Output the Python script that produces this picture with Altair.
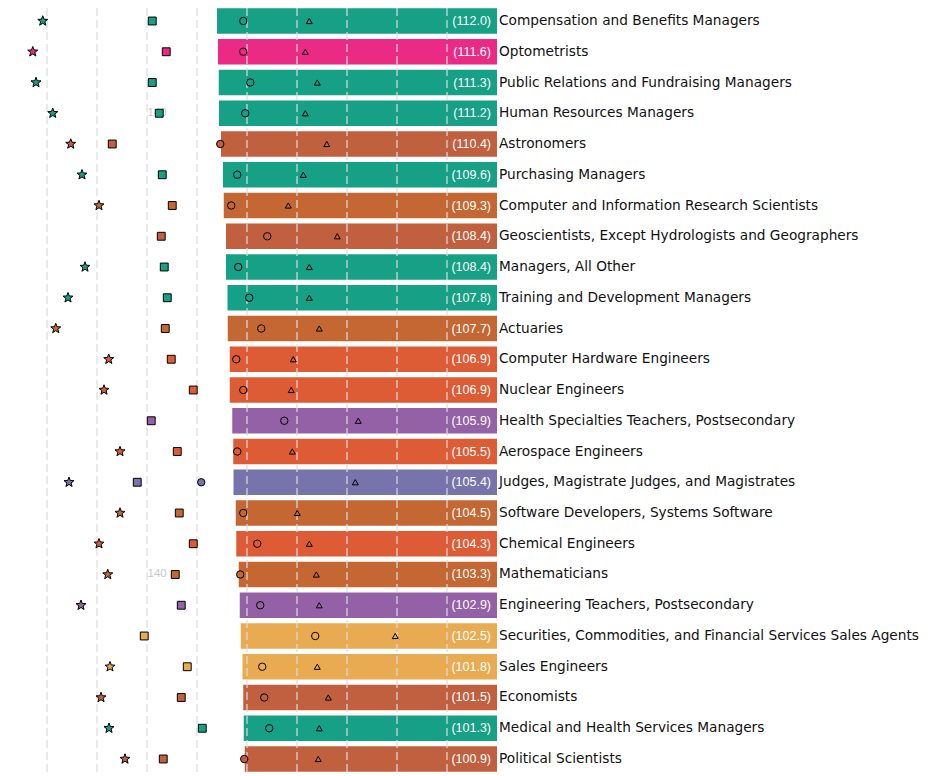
import math
import altair as alt
import pandas as pd

rows = list(range(1, 26))
names = [
    "Compensation and Benefits Managers", "Optometrists",
    "Public Relations and Fundraising Managers", "Human Resources Managers",
    "Astronomers", "Purchasing Managers",
    "Computer and Information Research Scientists",
    "Geoscientists, Except Hydrologists and Geographers",
    "Managers, All Other", "Training and Development Managers", "Actuaries",
    "Computer Hardware Engineers", "Nuclear Engineers",
    "Health Specialties Teachers, Postsecondary", "Aerospace Engineers",
    "Judges, Magistrate Judges, and Magistrates",
    "Software Developers, Systems Software", "Chemical Engineers",
    "Mathematicians", "Engineering Teachers, Postsecondary",
    "Securities, Commodities, and Financial Services Sales Agents",
    "Sales Engineers", "Economists", "Medical and Health Services Managers",
    "Political Scientists",
]
groups = [
    "Management", "Healthcare", "Management", "Management",
    "Science", "Management", "Computer", "Science", "Management",
    "Management", "Computer", "Engineering", "Engineering", "Education",
    "Engineering", "Legal", "Computer", "Engineering", "Computer",
    "Education", "Sales", "Sales", "Science", "Management", "Science",
]
bar_values = [
    112.0, 111.6, 111.3, 111.2, 110.4, 109.6, 109.3, 108.4, 108.4,
    107.8, 107.7, 106.9, 106.9, 105.9, 105.5, 105.4, 104.5, 104.3, 103.3,
    102.9, 102.5, 101.8, 101.5, 101.3, 100.9,
]
star_values = [
    181.7, 185.7, 184.4, 177.7, 170.5, 166.0, 159.2, None, 164.8,
    171.6, 176.5, 155.3, 157.2, None, 150.8, 171.2, 150.8, 159.2, 155.7,
    166.4, None, 154.8, 158.4, 155.2, 148.8,
]
square_values = [
    137.9, 132.3, 137.9, 135.1, 153.9, 133.9, 129.9, 134.3, 133.1,
    131.9, 132.7, 130.3, 121.5, 138.3, 127.9, 143.9, 127.1, 121.5, 128.7,
    126.3, 141.1, 123.9, 126.3, 117.9, 133.5,
]
circle_values = [
    101.5, 101.5, 98.7, 100.7, 110.7, 103.9, 106.3, 91.9, 103.5,
    99.1, 94.3, 104.3, 101.5, 85.1, 103.9, 118.3, 101.5, 95.9, 102.7,
    94.7, 72.7, 93.9, 93.1, 91.1, 101.1,
]
triangle_values = [
    75.1, 76.7, 71.9, 76.7, 68.1, 77.5, 83.5, 63.9, 75.1,
    75.1, 71.1, 81.5, 82.3, 55.5, 81.9, 56.7, 79.9, 75.1, 72.3,
    71.1, 40.7, 71.9, 67.5, 71.1, 71.5,
]
grid_ticks = [20, 40, 60, 80, 100, 120, 140, 160, 180]
tick_label_rows = [4, 19]
tick_label_value = 140

group_domain = ["Management", "Healthcare", "Science", "Computer",
                "Engineering", "Education", "Legal", "Sales"]
group_colors = ["#16a085", "#ea2a84", "#c0603f", "#c46733",
                "#dd5c35", "#9561a6", "#7773ab", "#e8ab51"]

# five-pointed star symbol path (unit symbol space)
pts = []
for i in range(10):
    r = 1.0 if i % 2 == 0 else 0.42
    a = -math.pi / 2 + i * math.pi / 5
    pts.append(f"{r * math.cos(a):.3f},{r * math.sin(a):.3f}")
STAR = "M" + "L".join(pts) + "Z"

df = pd.DataFrame({
    "row": rows, "name": names, "group": groups, "pay": bar_values,
    "star": star_values, "square": square_values,
    "circle": circle_values, "tri": triangle_values,
})
grid_df = pd.DataFrame({"t": grid_ticks})
lab_df = pd.DataFrame({"row": tick_label_rows,
                       "v": [tick_label_value] * len(tick_label_rows),
                       "txt": [str(tick_label_value)] * len(tick_label_rows)})

W, H = 489, 768
xs = alt.Scale(domain=[0, 195.6], reverse=True, nice=False, zero=False)
ys = alt.Scale(domain=[0.577, 25.553], reverse=True, nice=False, zero=False)
cs = alt.Scale(domain=group_domain, range=group_colors)

base = alt.Chart(df)

bars = base.transform_calculate(
    lo="datum.row - 0.418", hi="datum.row + 0.418"
).mark_rect().encode(
    x=alt.X("pay:Q", scale=xs, axis=None),
    x2=alt.datum(0),
    y=alt.Y("lo:Q", scale=ys, axis=None),
    y2="hi:Q",
    color=alt.Color("group:N", scale=cs, legend=None),
)

grid = alt.Chart(grid_df).mark_rule(
    color="#dddddd", strokeWidth=1.2, strokeDash=[8, 4]
).encode(
    x=alt.X("t:Q", scale=xs, axis=None),
    y=alt.value(0), y2=alt.value(H),
)

tick_text = alt.Chart(lab_df).mark_text(
    align="left", baseline="middle", fontSize=11.5, color="#c8c8c8",
    font="Liberation Sans", dx=0.5,
).encode(
    x=alt.X("v:Q", scale=xs, axis=None),
    y=alt.Y("row:Q", scale=ys, axis=None),
    text="txt:N",
)

def marker(field, shape, size):
    return base.mark_point(
        shape=shape, filled=True, size=size, stroke="black",
        strokeWidth=1, opacity=1,
    ).encode(
        x=alt.X(f"{field}:Q", scale=xs, axis=None),
        y=alt.Y("row:Q", scale=ys, axis=None),
        fill=alt.Fill("group:N", scale=cs, legend=None),
    )

circles = marker("circle", "circle", 55)
tris = marker("tri", "triangle-up", 36)
squares = marker("square", "square", 62)
stars = marker("star", STAR, 110)

val_text = base.transform_calculate(
    lbl="'(' + format(datum.pay, '.1f') + ')'", zero="0"
).mark_text(
    align="right", baseline="middle", fontSize=12.5, color="white",
    font="Liberation Sans", dx=-6,
).encode(
    x=alt.X("zero:Q", scale=xs, axis=None),
    y=alt.Y("row:Q", scale=ys, axis=None),
    text="lbl:N",
)

name_text = base.transform_calculate(zero="0").mark_text(
    align="left", baseline="middle", fontSize=13.7, color="#111111",
    font="DejaVu Sans", dx=2,
).encode(
    x=alt.X("zero:Q", scale=xs, axis=None),
    y=alt.Y("row:Q", scale=ys, axis=None),
    text="name:N",
)

chart = alt.layer(
    bars, grid, tick_text, circles, tris, squares, stars, val_text, name_text
).properties(
    width=W, height=H,
    autosize=alt.AutoSizeParams(type="none"),
    padding={"left": 0, "top": 0, "right": 426, "bottom": 0},
).configure_view(stroke=None)

chart.save("out.html", embed_options={"renderer": "svg", "actions": False})
